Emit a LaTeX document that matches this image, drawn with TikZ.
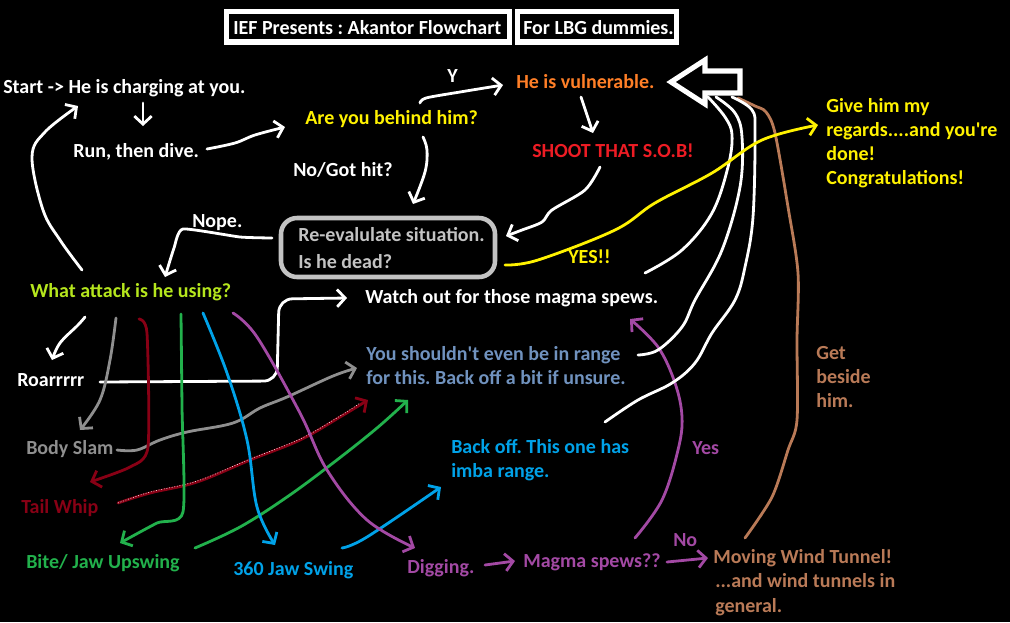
\documentclass[tikz,border=0pt]{standalone}
\usepackage{fontspec}
\setmainfont{Carlito}
\usetikzlibrary{arrows.meta}
\definecolor{pyellow}{HTML}{FFF200}
\definecolor{porange}{HTML}{FF7F27}
\definecolor{pred}{HTML}{ED1C24}
\definecolor{plime}{HTML}{B5E61D}
\definecolor{pgray}{HTML}{8F8F8F}
\definecolor{plgray}{HTML}{C3C3C3}
\definecolor{pdred}{HTML}{880015}
\definecolor{pgreen}{HTML}{22B14C}
\definecolor{pblue}{HTML}{00A2E8}
\definecolor{ppurple}{HTML}{A349A4}
\definecolor{pbrown}{HTML}{B97A57}
\definecolor{psteel}{HTML}{7092BE}
\frenchspacing
\tikzset{
  txt/.style={anchor=base west, inner sep=0pt, font=\fontsize{15}{18}\selectfont\bfseries},
  pen/.style={line width=2.1pt, line cap=round, line join=round},
  arr/.style={pen, -{Straight Barb[length=6pt,width=13pt]}},
  frame/.style={draw=white, line width=3.8pt},
}
\begin{document}
\begin{tikzpicture}[x=0.75pt,y=-0.75pt]
\fill[black] (0,0) rectangle (1010,622);
\useasboundingbox (0,0) rectangle (1010,622);

% title boxes
\draw[frame] (226.5,11.5) rectangle (509.5,42);
\draw[frame] (517.5,11.5) rectangle (676.5,42);
\node[txt,white] (title1) at (233,34) {IEF Presents : Akantor Flowchart};
\node[txt,white] (title2) at (523,34) {For LBG dummies.};

% texts
\node[txt,white] (start) at (3,93) {Start -> He is charging at you.};
\node[txt,white] (run) at (73,157) {Run, then dive.};
\node[txt,pyellow] (behind) at (305,124) {Are you behind him?};
\node[txt,white] (ylab) at (447,82) {Y};
\node[txt,porange] (vuln) at (516,88) {He is vulnerable.};
\node[txt,pred] (shoot) at (532,157) {SHOOT THAT S.O.B!};
\node[txt,white] (nohit) at (293,176) {No/Got hit?};
\node[txt,white] (nope) at (192,227) {Nope.};
\draw[draw=plgray, line width=3.4pt, rounded corners=12pt] (281,218) rectangle (495,277);
\node[txt,plgray] (reeval1) at (298,241) {Re-evalulate situation.};
\node[txt,plgray] (reeval2) at (298,268) {Is he dead?};
\node[txt,plime] (what) at (30,297) {What attack is he using?};
\node[txt,white] (watch) at (365,303) {Watch out for those magma spews.};
\node[txt,pyellow] (yes) at (568,263) {YES!!};
\node[txt,pyellow] (give1) at (826,112) {Give him my};
\node[txt,pyellow] (give2) at (826,136) {regards....and you\textquotesingle re};
\node[txt,pyellow] (give3) at (826,160) {done!};
\node[txt,pyellow] (give4) at (826,184) {Congratulations!};
\node[txt,white] (roar) at (17,386) {Roarrrrr};
\node[txt,pgray] (body) at (26,454) {Body Slam};
\node[txt,pdred] (tail) at (21,513) {Tail Whip};
\node[txt,pgreen] (bite) at (26,568) {Bite/ Jaw Upswing};
\node[txt,pblue] (jaw) at (233,575) {360 Jaw Swing};
\node[txt,ppurple] (dig) at (407,573) {Digging.};
\node[txt,psteel] (range1) at (366,360) {You shouldn\textquotesingle t even be in range};
\node[txt,psteel] (range2) at (366,384) {for this. Back off a bit if unsure.};
\node[txt,pblue] (back1) at (451,453) {Back off. This one has};
\node[txt,pblue] (back2) at (451,477) {imba range.};
\node[txt,ppurple] (magma) at (523,567) {Magma spews??};
\node[txt,ppurple] (nolab) at (673,546) {No};
\node[txt,ppurple] (yeslab) at (692,454) {Yes};
\node[txt,pbrown] (wind1) at (713,563) {Moving Wind Tunnel!};
\node[txt,pbrown] (wind2) at (715,587) {...and wind tunnels in};
\node[txt,pbrown] (wind3) at (715,612) {general.};
\node[txt,pbrown] (get1) at (816,359) {Get};
\node[txt,pbrown] (get2) at (816,383) {beside};
\node[txt,pbrown] (get3) at (816,407) {him.};

% big block arrow
\draw[white, line width=3.8pt, line join=miter]
  (671,82) -- (705,60) -- (705,71) -- (740,71) -- (740,93) -- (705,93) -- (705,104) -- cycle;

% endpoint coordinates
\coordinate (a1s) at (82,270);   \coordinate (a1e) at (78,106);
\coordinate (a2s) at (143,103);  \coordinate (a2e) at (143,126);
\coordinate (a3s) at (207,149);  \coordinate (a3e) at (285,127);
\coordinate (a4s) at (420,103);  \coordinate (a4e) at (503,85);
\coordinate (a5s) at (581,97);   \coordinate (a5e) at (593,133);
\coordinate (a6s) at (600,167);  \coordinate (a6e) at (506,236);
\coordinate (a7s) at (423,137);  \coordinate (a7e) at (413,204);
\coordinate (a8s) at (272,238);  \coordinate (a8e) at (165,277);
\coordinate (a9s) at (100,382);  \coordinate (a9e) at (347,298);
\coordinate (b1s) at (85,317);   \coordinate (b1e) at (52,360);
\coordinate (b2s) at (116,318);  \coordinate (b2e) at (80,430);
\coordinate (b3s) at (117,450);  \coordinate (b3e) at (357,368);
\coordinate (b4s) at (139,319);  \coordinate (b4e) at (90,482);
\coordinate (b5s) at (118,503);  \coordinate (b5e) at (368,400);
\coordinate (b6s) at (181,314);  \coordinate (b6e) at (120,543);
\coordinate (b7s) at (195,548);  \coordinate (b7e) at (408,400);
\coordinate (b8s) at (203,313);  \coordinate (b8e) at (275,545);
\coordinate (b9s) at (342,548);  \coordinate (b9e) at (441,487);
\coordinate (c1s) at (233,313);  \coordinate (c1e) at (415,548);
\coordinate (c2s) at (485,565);  \coordinate (c2e) at (515,561);
\coordinate (c3s) at (667,562);  \coordinate (c3e) at (708,558);
\coordinate (c4s) at (635,538);  \coordinate (c4e) at (630,319);
\coordinate (c5s) at (745,538);  \coordinate (c5e) at (738,98);
\coordinate (w1s) at (708,97);   \coordinate (w1e) at (645,273);
\coordinate (w2s) at (716,97);   \coordinate (w2e) at (638,355);
\coordinate (w3s) at (732,97);   \coordinate (w3e) at (605,422);
\coordinate (ys) at (505,265);   \coordinate (ye) at (818,125);

% white connectors
\draw[arr,white] plot[smooth,tension=0.6] coordinates {(a1s) (60,240) (43,210) (32,157) (45,132) (a1e)};
\draw[arr,white] (a2s) -- (a2e);
\draw[arr,white] plot[smooth,tension=0.6] coordinates {(a3s) (235,143) (255,135) (a3e)};
\draw[arr,white] plot[smooth,tension=0.5] coordinates {(a4s) (426,98) (460,92) (a4e)};
\draw[arr,white] plot[smooth,tension=0.5] coordinates {(a5s) (586,112) (a5e)};
\draw[arr,white] plot[smooth,tension=0.5] coordinates {(a6s) (585,190) (552,210) (542,222) (522,230) (a6e)};
\draw[arr,white] plot[smooth,tension=0.6] coordinates {(a7s) (427,150) (425,172) (a7e)};
\draw[arr,white] plot[smooth,tension=0.3] coordinates {(a8s) (240,237) (183,229) (174,248) (a8e)};
\draw[arr,white,rounded corners=10pt] (a9s) -- (277,381) -- (279,299) -- (a9e);
\draw[arr,white] plot[smooth,tension=0.6] coordinates {(b1s) (78,325) (60,343) (b1e)};

% coloured attack lines
\draw[arr,pgray] plot[smooth,tension=0.6] coordinates {(b2s) (110,360) (100,400) (b2e)};
\draw[arr,pgray] plot[smooth,tension=0.6] coordinates {(b3s) (137,450) (160,440) (187,432) (233,423) (260,408) (287,397) (333,376) (b3e)};
\draw[arr,pdred] plot[smooth,tension=0.4] coordinates {(b4s) (147,333) (148,447) (130,467) (b4e)};
\draw[arr,pdred] plot[smooth,tension=0.6] coordinates {(b5s) (150,493) (197,482) (250,460) (300,440) (340,417) (b5e)};
\draw[white, line width=0.4pt, dash pattern=on 0.7pt off 1.3pt, yshift=0.7pt] plot[smooth,tension=0.6] coordinates {(b5s) (150,493) (197,482) (250,460) (300,440) (340,417) (360,404)};
\draw[arr,pgreen] plot[smooth,tension=0.4] coordinates {(b6s) (182,407) (183,512) (157,523) (b6e)};
\draw[arr,pgreen] plot[smooth,tension=0.6] coordinates {(b7s) (240,527) (287,497) (333,463) (377,428) (b7e)};
\draw[arr,pblue] plot[smooth,tension=0.6] coordinates {(b8s) (227,373) (247,440) (257,507) (b8e)};
\draw[arr,pblue] plot[smooth,tension=0.6] coordinates {(b9s) (367,537) (b9e)};
\draw[arr,ppurple] plot[smooth,tension=0.6] coordinates {(c1s) (257,337) (300,413) (327,470) (367,520) (c1e)};
\draw[arr,ppurple] (c2s) -- (c2e);
\draw[arr,ppurple] (c3s) -- (c3e);
\draw[arr,ppurple] plot[smooth,tension=0.6] coordinates {(c4s) (662,500) (678,450) (682,417) (675,383) (658,347) (c4e)};
\draw[pen,pbrown] plot[smooth,tension=0.5] coordinates {(c5s) (772,497) (788,450) (797,420) (797,340) (798,273) (788,207) (775,133) (766,112) (755,106) (c5e)};

% white lines to the block arrow
\draw[pen,white] plot[smooth,tension=0.6] coordinates {(w1s) (725,117) (732,135) (728,167) (712,213) (682,250) (w1e)};
\draw[pen,white] plot[smooth,tension=0.6] coordinates {(w2s) (735,113) (742,137) (740,187) (722,250) (695,300) (682,327) (658,350) (w2e)};
\draw[pen,white] plot[smooth,tension=0.6] coordinates {(w3s) (752,110) (755,133) (753,217) (745,267) (735,300) (712,333) (695,363) (672,383) (638,400) (w3e)};

% yellow
\draw[arr,pyellow] plot[smooth,tension=0.6] coordinates {(ys) (538,260) (615,230) (655,203) (712,173) (762,140) (ye)};
\end{tikzpicture}
\end{document}
